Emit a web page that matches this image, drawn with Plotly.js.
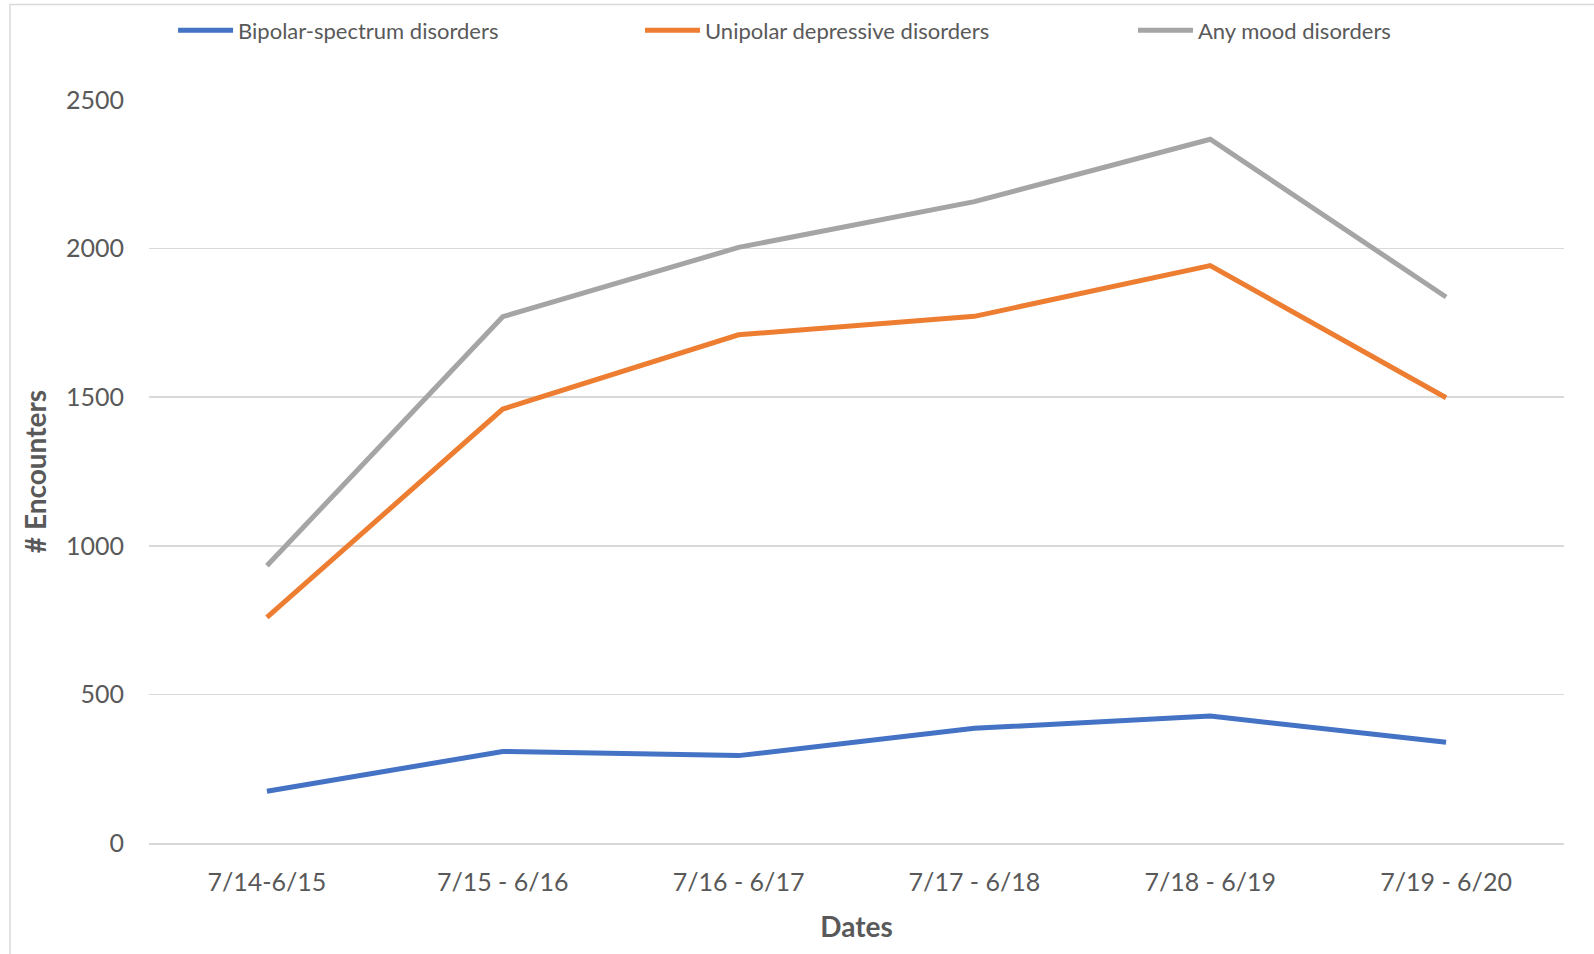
<!DOCTYPE html>
<html>
<head>
<meta charset="utf-8">
<script src="https://cdn.plot.ly/plotly-3.0.1.min.js"></script>
<style>
  html, body { margin: 0; padding: 0; background: #ffffff; }
  #chart { width: 1594px; height: 954px; }
</style>
</head>
<body>
<div id="chart"></div>
<script>
// Data
const periods = ["7/14-6/15", "7/15 - 6/16", "7/16 - 6/17", "7/17 - 6/18", "7/18 - 6/19", "7/19 - 6/20"];
const bipolar = [174, 308, 294, 386, 427, 339];
const unipolar = [759, 1460, 1710, 1772, 1943, 1498];
const anyMood = [933, 1771, 2004, 2158, 2368, 1837];
const seriesNames = ["Bipolar-spectrum disorders", "Unipolar depressive disorders", "Any mood disorders"];
const yTicks = [0, 500, 1000, 1500, 2000, 2500];

const colors = ["#4472C4", "#ED7D31", "#A5A5A5"];
const allSeries = [bipolar, unipolar, anyMood];
const legendIds = ["legend", "legend2", "legend3"];

const traces = allSeries.map((vals, i) => ({
  type: "scatter",
  mode: "lines",
  x: periods,
  y: vals,
  name: seriesNames[i],
  legend: legendIds[i],
  line: { color: colors[i], width: 5 },
  hoverinfo: "x+y+name"
}));

const fontFam = "Lato, 'Open Sans', sans-serif";

function legendAt(xp) {
  return {
    orientation: "h",
    x: xp,
    xanchor: "left",
    y: 1.0935,
    yanchor: "middle",
    itemwidth: 55,
    font: { family: fontFam, size: 22, color: "#595959" },
    bgcolor: "rgba(0,0,0,0)",
    borderwidth: 0
  };
}

const layout = {
  width: 1594,
  height: 954,
  margin: { l: 149, r: 30, t: 100, b: 111, autoexpand: false },
  paper_bgcolor: "#ffffff",
  plot_bgcolor: "#ffffff",
  font: { family: fontFam, color: "#595959" },
  showlegend: true,
  legend: legendAt(0.017),
  legend2: legendAt(0.347),
  legend3: legendAt(0.6954),
  xaxis: {
    type: "category",
    range: [-0.5, 5.5],
    showgrid: false,
    showline: true,
    linecolor: "#D9D9D9",
    linewidth: 1.5,
    ticks: "",
    ticklabelstandoff: 16,
    tickfont: { family: fontFam, size: 25, color: "#595959" },
    title: {
      text: "<b>Dates</b>",
      font: { family: fontFam, size: 28, color: "#595959" },
      standoff: 23
    },
    zeroline: false,
    fixedrange: true,
    automargin: false
  },
  yaxis: {
    range: [0, 2500],
    tickvals: yTicks,
    ticktext: yTicks.map(String),
    showgrid: true,
    gridcolor: "#D9D9D9",
    gridwidth: 1.5,
    showline: false,
    zeroline: false,
    ticks: "",
    ticklabelstandoff: 24,
    tickfont: { family: fontFam, size: 25, color: "#595959" },
    title: {
      text: "<b># Encounters</b>",
      font: { family: fontFam, size: 28, color: "#595959" },
      standoff: 11
    },
    fixedrange: true,
    automargin: false
  },
  shapes: [{
    type: "rect",
    xref: "paper",
    yref: "paper",
    x0: (10 - 149) / 1415,
    x1: (1620 - 149) / 1415,
    y0: (843 - 980) / 743,
    y1: (843 - 4.5) / 743,
    line: { color: "#D9D9D9", width: 1.5 },
    fillcolor: "rgba(0,0,0,0)",
    layer: "below"
  }]
};

Plotly.newPlot("chart", traces, layout, { displayModeBar: false, responsive: false, staticPlot: true });
</script>
</body>
</html>
